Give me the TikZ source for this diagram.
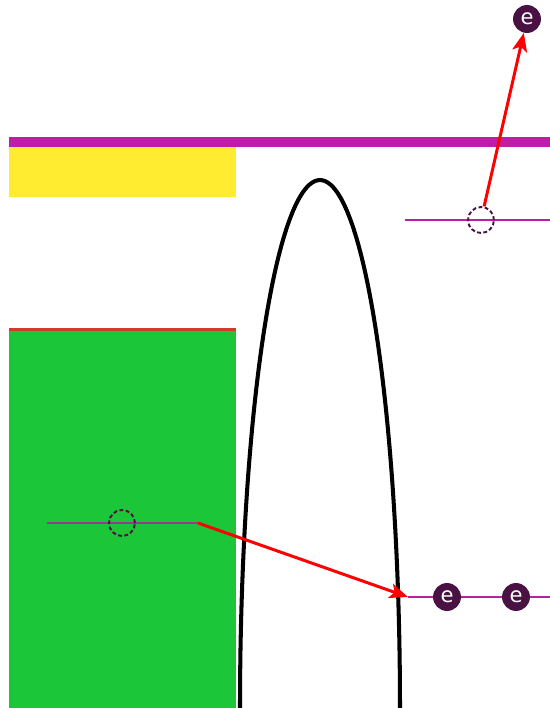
\documentclass[tikz,border=0pt]{standalone}
\usepackage{fontspec}
\setsansfont{DejaVu Sans}
\usetikzlibrary{arrows.meta}
\definecolor{bandmag}{RGB}{187,31,165}
\definecolor{bandyellow}{RGB}{255,235,47}
\definecolor{bandgreen}{RGB}{27,198,56}
\definecolor{edgered}{RGB}{205,60,45}
\definecolor{levelpurple}{RGB}{155,55,140}
\definecolor{elecpurple}{RGB}{74,18,66}
\begin{document}
\begin{tikzpicture}[x=0.02cm, y=-0.02cm,
  electron/.style={circle, fill=elecpurple, text=white, minimum size=15.9pt, inner sep=0pt, font=\sffamily\large},
  hole/.style={circle, draw=elecpurple, line width=1.1pt, dash pattern=on 2.2pt off 1.4pt, minimum size=14.8pt, inner sep=0pt},
  level/.style={draw=bandmag, line width=1.4pt},
  jump/.style={draw=red, line width=1.7pt, -{Stealth[length=10.5pt,width=8.5pt,inset=2.5pt]}}]
\useasboundingbox (0,0) rectangle (550,708);
\fill[bandyellow] (9,147) rectangle (235.5,197);
\fill[bandgreen] (9,331) rectangle (235.5,708);
\draw[edgered, line width=1.2pt] (9,329.5) -- (235.5,329.5);
\fill[bandmag] (9,137) rectangle (550,147);
\draw[line width=2.3pt, smooth, samples=80, domain=180:360] plot ({320+80*cos(\x)},{708+528*sin(\x)});
\coordinate (l1a) at (47,523);
\coordinate (l1b) at (198,523);
\coordinate (l2a) at (405,220);
\coordinate (l2b) at (550,220);
\coordinate (l3a) at (408,597);
\coordinate (l3b) at (550,597);
\draw[level, draw=levelpurple] (l1a) -- (l1b);
\draw[level] (l2a) -- (l2b);
\draw[level] (l3a) -- (l3b);
\node[hole] (h1) at (122,523) {};
\node[hole] (h2) at (481,220) {};
\node[electron] (e1) at (527,19) {e};
\node[electron] (e2) at (447,597) {e};
\node[electron] (e3) at (516,597) {e};
\draw[jump] (h2) -- (e1);
\draw[jump] (l1b) -- (l3a);
\end{tikzpicture}
\end{document}
